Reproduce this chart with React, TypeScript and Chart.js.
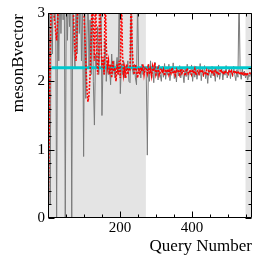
import React, { useEffect, useRef } from 'react';
import { Chart, registerables } from 'chart.js';

Chart.register(...registerables);

// ---- axis setup ----
const QUERY_STEP = 3;
const X_MIN = 0;
const X_MAX = 567;
const Y_MIN = 0;
const Y_MAX = 3;
const X_TICK_LABELS = [200, 400];
const Y_TICK_LABELS = [0, 1, 2, 3];
const X_MINOR_STEP = 50;
const X_MAJOR_STEP = 200;
const Y_MINOR_STEP = 0.2;
const Y_MAJOR_STEP = 1;
const X_TITLE = 'Query Number';
const Y_TITLE = 'mesonBvector';

// ---- data (every 3rd query) ----
// measured value per query (gray), queries 0..270
const measuredEarly = [
  0.1, 3.6, 0.2, 3.5, 2.4, 3.6, 2.9, 3.5, 0.0, 3.4,
  2.3, 3.5, 2.7, 3.4, 2.9, 3.6, 0.0, 3.5, 2.6, 3.3,
  2.8, 3.5, 0.0, 3.4, 2.5, 2.2, 3.3, 2.4, 3.5, 2.7,
  3.4, 2.3, 3.2, 0.9, 3.3, 1.75, 2.6, 3.4, 2.2, 2.9,
  2.1, 3.3, 2.0, 1.36, 2.4, 2.2, 2.8, 2.1, 2.5, 3.4,
  1.5, 2.3, 2.1, 2.6, 2.0, 2.3, 2.1, 2.2, 1.95, 2.4,
  2.1, 2.3, 2.05, 2.2, 2.35, 2.1, 3.3, 1.82, 2.25, 2.1,
  2.3, 2.05, 2.2, 2.15, 2.3, 2.0, 1.98, 3.3, 2.2, 2.1,
  2.25, 2.05, 1.95, 3.2, 2.15, 2.2, 2.05, 2.25, 2.1, 2.2,
  2.15,
];
// measured value per query (gray), queries 273..567
const measuredLate = [
  2.15, 0.92, 2.25, 2.0, 2.3, 2.05, 2.2, 1.98, 2.28, 2.08,
  2.18, 2.02, 2.24, 2.1, 2.0, 2.22, 2.06, 2.26, 2.03, 2.17,
  2.09, 2.25, 2.01, 2.19, 2.12, 2.27, 2.04, 2.16, 1.99, 2.2,
  2.08, 2.23, 2.05, 2.18, 2.11, 1.98, 2.21, 2.07, 2.25, 2.02,
  2.16, 2.1, 2.24, 2.0, 2.19, 2.06, 2.22, 2.03, 2.15, 2.09,
  2.26, 2.01, 2.18, 2.07, 2.23, 2.04, 2.14, 1.97, 2.2, 2.1,
  2.05, 2.22, 2.08, 2.17, 2.0, 2.21, 2.06, 2.24, 2.03, 2.13,
  2.19, 2.02, 2.16, 2.09, 2.23, 2.05, 2.11, 2.2, 2.04, 2.18,
  2.07, 2.22, 2.1, 2.01, 2.17, 2.06, 3.3, 2.14, 2.03, 2.19,
  2.08, 2.15, 2.05, 2.12, 2.02, 2.1, 2.07, 2.13, 2.05,
];
// running estimate (red dotted), queries 0..270
const estimateEarly = [
  0.0, 1.1, 2.4, 3.2, 3.4, 3.1, 2.9, 2.75, 2.6, 2.9,
  3.3, 3.5, 3.5, 3.4, 3.6, 3.5, 3.4, 3.5, 3.6, 3.4,
  3.5, 3.4, 3.5, 3.2, 2.8, 2.45, 2.3, 2.8, 3.4, 3.5,
  3.4, 3.3, 3.5, 3.2, 2.7, 2.3, 1.9, 1.7, 1.8, 2.1,
  2.6, 3.3, 2.8, 2.3, 3.3, 2.5, 2.1, 2.3, 3.3, 2.6,
  2.2, 2.35, 2.1, 3.3, 2.5, 2.2, 2.3, 2.1, 2.25, 2.05,
  2.3, 2.15, 2.2, 2.0, 2.25, 2.1, 2.3, 2.05, 3.3, 2.4,
  2.1, 2.2, 2.05, 2.25, 2.1, 2.2, 2.15, 3.3, 2.5, 2.2,
  2.1, 2.25, 2.15, 2.05, 2.2, 2.1, 2.2, 2.15, 2.25, 2.1,
  2.2,
];
// running estimate (red dotted), queries 273..567
const estimateLate = [
  2.2, 2.12, 2.25, 2.1, 2.18, 2.08, 2.22, 2.15, 2.27, 2.1,
  2.16, 2.2, 2.09, 2.14, 2.19, 2.12, 2.17, 2.08, 2.15, 2.13,
  2.18, 2.1, 2.16, 2.12, 2.2, 2.11, 2.14, 2.09, 2.17, 2.13,
  2.15, 2.1, 2.18, 2.12, 2.16, 2.14, 2.08, 2.15, 2.19, 2.11,
  2.13, 2.17, 2.1, 2.15, 2.12, 2.18, 2.09, 2.14, 2.16, 2.11,
  2.15, 2.13, 2.17, 2.1, 2.14, 2.12, 2.16, 2.08, 2.15, 2.13,
  2.17, 2.11, 2.14, 2.1, 2.16, 2.13, 2.15, 2.09, 2.14, 2.18,
  2.12, 2.15, 2.1, 2.16, 2.13, 2.14, 2.11, 2.17, 2.12, 2.15,
  2.1, 2.14, 2.16, 2.11, 2.13, 2.15, 2.1, 2.12, 2.14, 2.09,
  2.12, 2.1, 2.13, 2.08, 2.11, 2.1, 2.12, 2.09, 2.1,
];
const measuredValues = [...measuredEarly, ...measuredLate];
const estimateValues = [...estimateEarly, ...estimateLate];
const queryNumbers = measuredValues.map((_, i) => i * QUERY_STEP);

// reference level (cyan)
const referenceLevel = 2.2;
const referenceQueries = [10, 567];

// shaded query ranges
const shadedRanges: [number, number][] = [
  [0, 272],
  [549, 567],
];

const FONT = "'Liberation Serif', 'Times New Roman', serif";

const bandPlugin = {
  id: 'bands',
  beforeDatasetsDraw(chart: any) {
    const { ctx, chartArea: a, scales } = chart;
    const x = scales.x;
    ctx.save();
    ctx.fillStyle = '#e4e4e4';
    for (const [s, e] of shadedRanges) {
      const x0 = x.getPixelForValue(s);
      const x1 = x.getPixelForValue(e);
      ctx.fillRect(x0, a.top, x1 - x0, a.bottom - a.top);
    }
    ctx.restore();
  },
};

const framePlugin = {
  id: 'frame',
  afterDatasetsDraw(chart: any) {
    const { ctx, chartArea: a, scales } = chart;
    const x = scales.x;
    const y = scales.y;
    ctx.save();
    ctx.strokeStyle = '#000';
    ctx.lineWidth = 1;
    const L = Math.round(a.left) + 0.5;
    const R = Math.round(a.right) - 0.5;
    const T = Math.round(a.top) + 0.5;
    const B = Math.round(a.bottom) - 0.5;
    ctx.beginPath();
    ctx.rect(L, T, R - L, B - T);
    const nx = Math.floor((X_MAX - X_MIN) / X_MINOR_STEP);
    for (let i = 0; i <= nx; i++) {
      const v = X_MIN + i * X_MINOR_STEP;
      const px = Math.round(x.getPixelForValue(v)) + 0.5;
      const len = v % X_MAJOR_STEP === 0 ? 6 : 3;
      ctx.moveTo(px, B);
      ctx.lineTo(px, B - len);
      ctx.moveTo(px, T);
      ctx.lineTo(px, T + len);
    }
    const ny = Math.round((Y_MAX - Y_MIN) / Y_MINOR_STEP);
    const per = Math.round(Y_MAJOR_STEP / Y_MINOR_STEP);
    for (let i = 0; i <= ny; i++) {
      const v = Y_MIN + i * Y_MINOR_STEP;
      const py = Math.round(y.getPixelForValue(v)) + 0.5;
      const len = i % per === 0 ? 6 : 3;
      ctx.moveTo(L, py);
      ctx.lineTo(L + len, py);
      ctx.moveTo(R, py);
      ctx.lineTo(R - len, py);
    }
    ctx.stroke();
    ctx.restore();
  },
  afterDraw(chart: any) {
    const { ctx, chartArea: a, scales } = chart;
    const x = scales.x;
    const y = scales.y;
    ctx.save();
    ctx.fillStyle = '#000';
    // tick labels
    ctx.font = `15px ${FONT}`;
    ctx.textAlign = 'center';
    ctx.textBaseline = 'alphabetic';
    for (const v of X_TICK_LABELS) {
      ctx.fillText(String(v), x.getPixelForValue(v), a.bottom + 14);
    }
    ctx.textAlign = 'right';
    ctx.textBaseline = 'middle';
    for (const v of Y_TICK_LABELS) {
      ctx.fillText(String(v), a.left - 3, y.getPixelForValue(v));
    }
    // titles
    ctx.font = `17px ${FONT}`;
    ctx.textAlign = 'right';
    ctx.textBaseline = 'alphabetic';
    ctx.fillText(X_TITLE, a.right, 251);
    ctx.translate(23, a.top + 1);
    ctx.rotate(-Math.PI / 2);
    ctx.fillText(Y_TITLE, 0, 0);
    ctx.restore();
  },
};

export default function App() {
  const ref = useRef<HTMLCanvasElement | null>(null);

  useEffect(() => {
    if (!ref.current) return;
    const chart = new Chart(ref.current, {
      type: 'line',
      data: {
        datasets: [
          {
            label: 'estimate',
            data: queryNumbers.map((q, i) => ({ x: q, y: estimateValues[i] })),
            borderColor: '#ff0000',
            borderWidth: 1.6,
            borderDash: [2, 1.5],
            pointRadius: 0,
            tension: 0,
            clip: 0,
            order: 0,
          },
          {
            label: 'reference',
            data: referenceQueries.map((q) => ({ x: q, y: referenceLevel })),
            borderColor: 'rgb(0,200,205)',
            borderWidth: 3,
            pointRadius: 0,
            clip: 0,
            order: 1,
          },
          {
            label: 'measured',
            data: queryNumbers.map((q, i) => ({ x: q, y: measuredValues[i] })),
            borderColor: '#7a7a7a',
            borderWidth: 1,
            pointRadius: 0,
            tension: 0,
            clip: 0,
            order: 2,
          },
        ],
      } as any,
      options: {
        animation: false,
        responsive: false,
        devicePixelRatio: 1,
        layout: { padding: { top: 13, right: 14, left: 0, bottom: 0 } },
        plugins: { legend: { display: false }, tooltip: { enabled: false } },
        scales: {
          x: {
            type: 'linear',
            min: X_MIN,
            max: X_MAX,
            grid: { display: false, drawTicks: false },
            border: { display: false },
            ticks: { display: false },
            afterFit: (s: any) => {
              s.height = 42;
            },
          },
          y: {
            type: 'linear',
            min: Y_MIN,
            max: Y_MAX,
            grid: { display: false, drawTicks: false },
            border: { display: false },
            ticks: { display: false },
            afterFit: (s: any) => {
              s.width = 48;
            },
          },
        },
      } as any,
      plugins: [bandPlugin, framePlugin],
    });
    return () => chart.destroy();
  }, []);

  return (
    <div style={{ position: 'absolute', left: 0, top: 0, width: 266, height: 260 }}>
      <canvas ref={ref} width={266} height={260} />
    </div>
  );
}
